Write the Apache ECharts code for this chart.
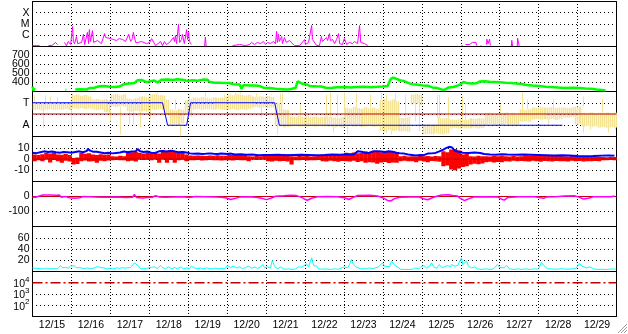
<!DOCTYPE html>
<html><head><meta charset="utf-8">
<script src="https://cdn.jsdelivr.net/npm/echarts/dist/echarts.min.js"></script>
<style>html,body{margin:0;padding:0;background:#fff;}#c{width:628px;height:334px;}</style>
</head><body><div id="c"></div><script>
// ---------- DATA ----------
const dateLabels = ['12/15','12/16','12/17','12/18','12/19','12/20','12/21','12/22','12/23','12/24','12/25','12/26','12/27','12/28','12/29'];
const dayCount = 15;
const xrayTicks = {'-6':'C','-5':'M','-4':'X'};
// X-ray flux [day, W/m2]
const xray = [[0,1.2e-7],[0.10,1.2e-7],[0.18,1.2e-7],[0.2,'-'],[0.41,1.2e-7],[0.51,1.3e-7],[0.59,2.3e-7],[0.64,1.5e-7],[0.66,'-'],
[0.82,2.3e-7],[0.87,1.2e-7],[0.92,2.8e-7],[0.98,1.5e-7],[1.03,6e-6],[1.05,2.8e-7],[1.08,1.8e-7],[1.13,7.7e-7],[1.16,1.8e-7],[1.21,1.5e-7],
[1.26,2.3e-7],[1.31,1.2e-6],[1.34,1.5e-7],[1.39,1.8e-7],[1.41,1.8e-6],[1.44,1.8e-7],[1.46,3.2e-6],[1.49,2.8e-7],[1.54,2.6e-6],[1.57,2.3e-7],
[1.62,2.3e-7],[1.67,3.4e-7],[1.72,2.3e-7],[1.77,1.8e-7],[1.85,1.4e-6],[1.88,6.3e-7],[1.93,4.2e-7],[2.00,5.1e-7],[2.08,4.2e-7],[2.16,3.4e-7],
[2.23,5.1e-7],[2.31,4.2e-7],[2.39,2.8e-7],[2.44,3.4e-7],[2.47,1.2e-6],[2.52,2.8e-7],[2.57,5.1e-7],[2.59,1.8e-6],[2.65,2.3e-7],[2.72,2.3e-7],
[2.80,2.8e-7],[2.85,2.3e-7],[2.93,1.8e-7],[3.01,2.3e-7],[3.06,5.1e-7],[3.11,4.2e-7],[3.16,1.2e-7],[3.21,1.2e-7],[3.29,2.8e-7],[3.34,1.2e-7],
[3.39,2.8e-7],[3.44,1.5e-7],[3.52,2.3e-7],[3.57,2.8e-7],[3.62,6.3e-7],[3.65,2.8e-7],[3.67,9.5e-7],[3.70,1.8e-7],[3.75,9.1e-6],[3.78,2.3e-7],
[3.83,4.2e-7],[3.85,1.2e-6],[3.90,1.8e-7],[3.96,3.2e-6],[3.98,4.2e-7],[4.01,1.8e-6],[4.03,2.8e-7],[4.08,1.5e-7],[4.1,'-'],
[4.42,1.1e-7],[4.44,7e-7],[4.46,1.1e-7],[4.47,'-'],
[5.14,1.2e-7],[5.32,1.5e-7],[5.47,1.2e-7],[5.57,1.5e-7],[5.63,2.3e-7],[5.70,1.5e-7],[5.78,2.3e-7],[5.86,1.8e-7],[5.93,2.8e-7],[5.99,1.5e-7],
[6.04,2.3e-7],[6.11,1.8e-7],[6.19,2.8e-7],[6.24,1.8e-7],[6.27,2.2e-6],[6.29,2.3e-7],[6.32,1.2e-6],[6.34,2.8e-7],[6.40,7.7e-7],[6.42,1.8e-7],
[6.47,6.3e-7],[6.52,2.3e-7],[6.60,3.4e-7],[6.65,2.3e-7],[6.73,1.2e-7],[6.86,1.2e-7],[6.99,4.2e-7],[7.01,1.5e-7],[7.09,2.3e-7],[7.14,1.8e-7],
[7.17,7.4e-6],[7.19,4.2e-7],[7.24,2.8e-7],[7.30,1.2e-7],[7.37,1.2e-7],[7.42,7.7e-7],[7.45,2.8e-7],[7.50,4.2e-7],[7.55,6.3e-7],[7.58,3.4e-7],
[7.63,1.4e-6],[7.65,3.4e-7],[7.71,4.2e-7],[7.76,1.8e-7],[7.81,4.2e-7],[7.86,1.4e-6],[7.89,1.8e-7],[7.96,1.5e-7],[8.01,5.1e-7],[8.07,1.5e-7],
[8.14,2.3e-7],[8.22,1.8e-7],[8.27,2.8e-7],[8.35,1.8e-7],[8.40,7.4e-6],[8.43,2.3e-7],[8.48,3.4e-7],[8.53,1.8e-7],[8.61,1.2e-7],[8.62,'-'],
[10.12,1.2e-7],[10.16,1.2e-7],[10.17,'-'],[11.02,1.2e-7],[11.05,1.2e-7],[11.07,'-'],
[11.12,1.5e-7],[11.17,1.2e-7],[11.22,1.5e-7],[11.25,1.2e-7],[11.30,2.3e-7],[11.35,1.8e-7],[11.39,2.3e-7],[11.41,1.2e-7],[11.42,'-'],
[11.51,1.2e-7],[11.53,1.2e-7],[11.54,'-'],
[11.66,1.5e-7],[11.67,4.5e-7],[11.70,1.8e-7],[11.73,1.8e-7],[11.74,4.5e-7],[11.76,1.2e-7],[11.77,'-'],
[12.30,1.1e-7],[12.31,3.6e-7],[12.33,1.1e-7],[12.34,'-'],
[12.45,1.1e-7],[12.46,5.5e-7],[12.49,5e-7],[12.50,1.1e-7]];
// Solar wind speed [day, km/s]
const speed = [[0,355],[0.03,305],[0.05,340],[0.06,'-'],[0.85,320],[0.87,318],[0.9,'-'],
[1.10,322],[1.21,325],[1.39,322],[1.46,338],[1.59,342],[1.72,358],[1.85,360],[1.98,352],[2.11,350],[2.23,355],[2.34,380],[2.49,388],[2.62,395],
[2.70,426],[2.80,428],[2.93,404],[3.06,418],[3.13,422],[3.21,400],[3.31,430],[3.47,434],[3.60,428],[3.72,436],[3.85,430],[3.98,418],[4.11,426],
[4.24,420],[4.37,432],[4.50,430],[4.55,405],[4.68,398],[4.85,396],[5.06,395],[5.16,380],[5.32,378],[5.37,332],[5.42,372],[5.57,368],[5.73,366],
[5.83,362],[5.93,342],[6.09,338],[6.24,330],[6.42,326],[6.55,322],[6.65,328],[6.76,342],[6.81,412],[6.86,422],[6.94,385],[7.04,378],[7.12,362],
[7.27,358],[7.42,355],[7.53,342],[7.68,340],[7.81,346],[8.01,350],[8.19,345],[8.32,350],[8.53,352],[8.71,348],[8.86,352],[8.99,356],[9.12,362],
[9.20,440],[9.27,455],[9.35,440],[9.43,425],[9.53,418],[9.63,398],[9.74,382],[9.89,376],[10.02,368],[10.15,365],[10.27,345],[10.40,338],[10.51,322],
[10.58,318],[10.63,312],[10.68,345],[10.81,350],[10.92,365],[10.99,380],[11.07,405],[11.15,395],[11.28,388],[11.41,392],[11.48,412],[11.61,415],
[11.74,408],[11.87,406],[12.00,402],[12.15,396],[12.30,394],[12.43,388],[12.56,384],[12.69,372],[12.84,366],[13.02,360],[13.18,353],[13.33,350],
[13.49,344],[13.67,340],[13.85,342],[14.05,338],[14.20,333],[14.36,330],[14.49,322],[14.62,318],[14.72,312]];
// IMF direction (phi, deg): core range per 0.1-day bin, plus isolated excursions [day, from, to]
const phiBinStep = 0.1;
const phiHi = [266,270,262,268,272,270,266,274,268,270,330,336,326,332,320,296,300,292,298,290,334,340,330,338,304,300,308,318,322,314,
336,340,332,328,296,216,210,220,214,290,300,312,306,316,310,304,314,308,312,318,336,330,338,332,328,334,320,316,322,318,
324,316,272,266,216,212,160,156,164,158,162,156,160,154,158,162,156,152,148,154,230,224,236,228,220,234,226,232,222,290,
300,286,296,280,150,148,154,336,340,332,96,100,92,98,150,144,148,136,132,138,134,136,146,142,148,144,186,190,182,188,
184,192,186,190,184,216,212,218,232,228,234,230,232,236,228,232,232,228,234,240,236,190,186,194,188,190,186,192,188,190];
const phiLo = [212,216,208,214,218,212,216,214,220,212,226,222,228,220,224,216,212,218,196,192,240,236,244,238,204,198,206,200,204,198,
216,212,220,214,176,96,100,92,104,170,160,216,220,212,218,216,214,222,216,212,216,220,212,218,214,220,232,236,228,234,
230,232,84,80,72,76,80,84,78,82,80,82,78,84,80,82,78,72,76,70,80,84,78,82,76,80,84,78,82,48,
40,52,44,50,40,44,38,256,260,252,16,20,16,24,20,16,24,64,68,62,66,64,66,70,64,68,94,98,92,96,
94,98,92,96,94,120,124,118,136,140,134,138,136,140,132,138,152,150,154,96,100,80,84,78,82,72,76,70,74,72];
const phiSpikes = [[0.05,266,330],[0.26,213,66],[0.31,266,330],[0.44,270,320],[0.64,270,312],[1.00,216,0],[1.01,226,344],[1.98,216,120],
[2.26,240,16],[2.49,204,96],[2.57,198,96],[2.75,200,72],[3.03,216,144],[3.21,340,352],[3.67,216,296],[3.78,92,0],[4.03,300,328],[4.42,316,352],
[4.93,318,336],[5.19,330,360],[5.32,338,352],[5.73,316,344],[5.88,232,152],[6.29,84,16],[6.36,272,344],[6.42,266,344],[6.86,160,256],
[7.55,162,336],[7.65,156,352],[7.73,72,32],[7.83,152,336],[7.99,154,352],[8.07,80,16],[8.32,226,344],[8.66,234,336],[8.96,290,352],
[9.07,280,336],[9.08,50,32],[9.20,48,16],[9.32,280,344],[9.56,154,336],[9.82,256,120],[9.92,252,40],[10.38,150,336],[10.45,144,336],
[10.66,136,312],[11.02,136,320],[11.12,136,264],[12.00,190,256],[12.56,192,352],[12.71,218,296],[13.23,136,96],[13.36,232,304],
[14.13,240,320],[14.14,96,32],[14.31,80,56],[14.62,190,304],[14.77,76,32],[14.95,72,56]];
// Sector polarity (deg: 270 = T, 90 = A)
const sector = [[0,270],[3.34,270],[3.47,90],[3.96,90],[4.06,270],[6.22,270],[6.34,90],[13.61,90]];
const phiCenter = 180;
// Bt [day, nT]
const bt = [[0,5.5],[0.10,5.2],[0.20,6.0],[0.30,6.8],[0.40,6.2],[0.50,6.6],[0.60,6.0],[0.70,5.6],[0.80,6.2],[0.90,6.0],[1.00,5.6],[1.10,6.2],
[1.20,6.8],[1.30,6.0],[1.40,7.2],[1.42,9.0],[1.48,7.4],[1.55,6.5],[1.65,6.4],[1.75,5.8],[1.85,5.2],[1.95,5.6],[2.05,5.0],[2.15,5.4],[2.25,5.8],
[2.35,6.6],[2.45,6.0],[2.55,6.6],[2.65,6.8],[2.70,8.8],[2.76,7.0],[2.85,6.2],[2.95,6.6],[3.05,5.6],[3.15,5.4],[3.25,6.8],[3.35,7.2],[3.45,6.6],
[3.55,7.4],[3.65,6.8],[3.75,6.0],[3.85,6.2],[3.95,5.8],[4.05,5.0],[4.15,4.6],[4.25,4.8],[4.35,4.4],[4.45,4.6],[4.55,5.0],[4.65,4.6],[4.75,4.4],
[4.85,4.8],[5.00,4.4],[5.05,5.4],[5.10,4.8],[5.20,4.0],[5.35,4.2],[5.50,3.8],[5.65,4.0],[5.80,3.4],[5.95,3.6],[6.10,3.6],[6.30,3.8],[6.50,3.4],
[6.70,3.6],[6.90,3.8],[7.10,3.6],[7.30,3.4],[7.50,3.6],[7.70,4.0],[7.90,3.8],[8.10,4.2],[8.25,4.0],[8.35,6.8],[8.45,6.4],[8.55,5.4],[8.65,5.6],
[8.75,6.8],[8.85,7.0],[8.95,6.6],[9.05,6.2],[9.15,6.8],[9.25,6.4],[9.35,5.6],[9.45,5.0],[9.55,4.8],[9.65,4.0],[9.75,3.6],[9.85,3.2],[9.95,3.6],
[10.05,3.4],[10.15,4.8],[10.25,5.0],[10.35,5.4],[10.45,6.8],[10.55,8.4],[10.62,9.6],[10.70,10.8],[10.78,10.2],[10.85,7.2],[10.95,6.4],[11.05,5.6],
[11.20,5.4],[11.35,5.8],[11.50,5.4],[11.60,4.4],[11.75,4.0],[11.90,3.8],[12.05,4.2],[12.20,4.0],[12.40,3.8],[12.60,4.0],[12.80,3.8],[13.00,3.6],
[13.20,3.4],[13.40,3.2],[13.60,3.4],[13.80,3.2],[14.00,2.6],[14.20,2.4],[14.40,2.6],[14.60,3.0],[14.80,3.2],[14.95,3.0]];
// Bz range per 0.1-day bin [nT]
const bzBinStep = 0.1;
const bzHi = [4.0,3.6,4.2,5.5,5.0,5.8,4.0,3.8,4.4,3.6,1.0,1.4,5.5,4.6,5.2,4.0,3.6,4.2,3.8,4.0,2.5,2.2,2.8,2.4,6.9,6.0,6.4,
5.5,5.0,5.8,5.2,5.4,5.0,6.9,6.4,7.0,6.6,6.2,6.8,4.0,3.1,2.8,3.2,3.0,2.6,3.1,2.9,3.3,2.8,3.0,4.0,3.6,4.2,3.8,4.0,
2.5,2.2,2.6,2.4,2.8,4.0,3.6,4.2,3.8,4.4,3.9,2.5,2.2,2.6,2.4,2.8,2.3,2.5,2.6,4.0,3.7,4.2,3.8,4.1,3.9,5.5,5.0,5.8,5.2,5.4,
6.9,6.2,7.2,6.6,6.0,6.8,6.4,7.0,6.2,2.5,2.8,2.2,2.5,2.2,2.8,2.4,2.6,2.3,2.7,2.5,6.9,6.0,8.4,9.0,7.6,4.0,4.4,2.5,2.2,2.8,2.4,
2.5,2.2,2.6,2.4,2.8,2.5,2.3,2.6,2.2,2.4,3.1,2.8,3.2,3.0,2.7,3.1,2.9,3.2,2.8,3.0,2.5,2.2,2.6,2.4,2.3,2.6,2.4,2.2,2.5,2.3,1.8,1.6,2.0,1.7];
const bzLo = [-1.9,-1.2,-2.0,-0.4,-3.0,-0.8,-2.0,-3.4,-1.6,-2.2,-4.9,-4.4,-1.9,-1.4,-2.2,-1.9,-3.4,-1.6,-2.0,-1.4,-1.0,-0.8,-1.2,-1.0,-1.9,-1.6,-2.2,
-0.4,-0.8,-0.6,-1.0,-0.4,-3.4,-0.4,-3.4,-0.8,-3.4,-1.0,-0.6,-1.9,-1.0,-1.2,-0.8,-1.4,-1.0,-0.9,-1.2,-1.0,-1.4,-1.1,-1.0,-1.4,-0.8,-1.2,-1.0,
-1.9,-0.4,-0.8,-0.6,-0.4,-1.9,-2.2,-1.6,-2.0,-1.8,-2.2,-4.9,-1.0,-1.2,-0.8,-1.4,-1.0,-1.2,-0.9,-1.9,-2.2,-1.6,-2.0,-2.4,-1.8,-1.9,-2.2,-1.6,-2.6,-2.0,
-3.4,-2.8,-3.0,-4.2,-3.2,-2.6,-3.6,-3.0,-3.4,-1.9,-1.6,-2.0,-1.9,-2.8,-1.6,-2.2,-2.8,-1.8,-2.0,-2.4,-6.4,-5.8,-9.3,-10.0,-8.4,-7.0,-6.4,-4.9,-4.2,-4.6,-4.0,
-2.8,-2.4,-3.0,-2.6,-2.8,-1.9,-2.2,-1.6,-2.0,-1.8,-1.9,-2.2,-1.6,-2.0,-2.4,-1.8,-2.0,-2.2,-1.7,-1.9,-1.9,-2.2,-1.6,-2.0,-1.8,-2.2,-1.9,-2.0,-1.7,-2.1,-1.0,-1.2,-0.8,-1.0];
// Dst [day, nT]
const dst = [[0,-5],[0.08,-5],[0.13,0],[0.26,10],[0.44,10],[0.62,8],[0.69,10],[0.74,-5],[0.85,0],[0.95,-8],[1.08,-12],[1.21,-8],[1.31,0],
[1.46,-2],[1.62,-4],[1.77,-5],[1.98,-5],[2.18,-4],[2.39,-6],[2.57,-5],[2.62,14],[2.67,-6],[2.83,-10],[2.95,-6],[3.08,-5],[3.16,6],[3.26,-3],
[3.42,-5],[3.65,-3],[3.85,-2],[4.03,-6],[4.19,0],[4.42,-1],[4.68,-3],[4.85,-5],[4.98,-10],[5.09,-20],[5.19,-14],[5.32,-4],[5.57,-2],[5.78,-6],
[5.88,-12],[6.01,-21],[6.14,-10],[6.24,2],[6.45,5],[6.63,8],[6.78,6],[6.91,-6],[6.99,-18],[7.06,-25],[7.17,-12],[7.32,-2],[7.58,0],[7.83,-2],
[8.01,-8],[8.12,-20],[8.24,-6],[8.35,7],[8.66,8],[8.86,4],[8.99,-8],[9.12,-26],[9.20,-30],[9.30,-14],[9.43,-5],[9.68,-3],[9.94,-3],[10.04,-15],
[10.15,-22],[10.27,-8],[10.38,2],[10.51,10],[10.69,11],[10.79,6],[10.92,3],[10.99,-12],[11.10,-27],[11.20,-16],[11.33,-3],[11.61,-1],[11.94,-3],
[12.05,-18],[12.12,-24],[12.21,-6],[12.51,-1],[12.90,-2],[13.05,-8],[13.13,-12],[13.20,-4],[13.43,-1],[13.67,4],[13.92,5],[14.05,-6],[14.15,-17],
[14.28,-12],[14.41,-2],[14.69,-1],[14.87,-2],[14.95,4]];
// Density [day, /cc]
const dens = [[0,6.5],[0.05,8.3],[0.10,5.6],[0.15,8.0],[0.21,5.0],[0.26,7.5],[0.31,4.7],[0.36,6.8],[0.41,5.0],[0.49,4.7],[0.57,5.2],[0.64,4.7],
[0.69,8.0],[0.72,10.7],[0.77,6.5],[0.85,7.2],[0.92,6.0],[0.98,10.0],[1.03,8.5],[1.08,10.2],[1.13,6.5],[1.21,7.0],[1.26,6.2],[1.34,5.0],[1.41,6.5],
[1.49,4.7],[1.57,6.0],[1.62,5.0],[1.67,9.0],[1.70,12.4],[1.75,7.0],[1.82,6.5],[1.90,4.7],[2.00,5.2],[2.08,4.7],[2.16,6.5],[2.23,5.6],[2.31,6.8],
[2.39,6.0],[2.44,8.3],[2.52,7.0],[2.57,9.0],[2.62,15.4],[2.67,18.4],[2.72,10.0],[2.77,4.7],[2.85,5.0],[2.93,5.6],[2.98,8.3],[3.06,7.5],[3.13,8.3],
[3.21,5.5],[3.29,10.7],[3.34,7.0],[3.42,5.0],[3.49,8.3],[3.57,4.7],[3.65,7.0],[3.72,5.0],[3.80,8.0],[3.88,4.7],[3.96,6.5],[4.03,5.0],[4.08,9.5],
[4.16,6.5],[4.24,5.0],[4.32,6.2],[4.39,4.7],[4.47,6.5],[4.55,5.0],[4.62,4.7],[4.70,6.0],[4.78,4.7],[4.85,5.5],[4.93,4.7],[5.01,10.7],[5.09,7.0],
[5.16,9.5],[5.24,6.5],[5.32,8.3],[5.39,5.0],[5.47,7.0],[5.55,9.5],[5.63,6.0],[5.70,8.0],[5.78,5.6],[5.86,8.3],[5.91,12.4],[5.96,6.5],[6.04,8.3],
[6.11,6.0],[6.16,19.5],[6.22,9.0],[6.29,5.0],[6.37,8.0],[6.45,4.7],[6.52,4.0],[6.60,4.7],[6.68,3.6],[6.76,4.7],[6.83,8.3],[6.91,7.5],[6.96,10.7],
[7.04,13.6],[7.09,8.3],[7.14,10.0],[7.17,24.3],[7.22,10.7],[7.30,9.5],[7.35,4.7],[7.45,4.0],[7.55,4.7],[7.65,3.6],[7.76,4.7],[7.86,4.0],[7.94,6.5],
[8.01,8.3],[8.09,6.5],[8.14,12.0],[8.19,21.3],[8.24,13.0],[8.30,8.3],[8.35,10.7],[8.43,4.7],[8.50,5.0],[8.58,4.7],[8.66,6.5],[8.73,5.0],[8.81,6.5],
[8.89,8.3],[8.94,6.5],[8.99,15.4],[9.04,9.5],[9.09,10.7],[9.17,8.3],[9.22,18.4],[9.27,16.0],[9.32,10.0],[9.38,8.3],[9.45,4.0],[9.56,3.6],[9.66,3.6],
[9.76,4.0],[9.84,6.5],[9.92,4.7],[9.97,8.3],[10.05,10.7],[10.12,6.5],[10.20,9.5],[10.25,15.4],[10.30,8.3],[10.38,6.0],[10.45,12.4],[10.51,7.0],
[10.58,8.3],[10.66,10.7],[10.74,8.3],[10.76,12.4],[10.84,9.5],[10.92,10.7],[10.97,8.3],[11.02,24.3],[11.05,12.4],[11.10,10.0],[11.15,18.4],[11.20,9.0],
[11.28,6.5],[11.35,8.3],[11.43,4.7],[11.53,3.6],[11.64,4.7],[11.74,3.6],[11.84,4.7],[11.89,6.0],[11.94,12.4],[12.00,7.0],[12.05,8.3],[12.12,6.5],
[12.18,10.7],[12.25,4.7],[12.36,3.6],[12.46,4.7],[12.56,3.6],[12.66,4.7],[12.77,3.6],[12.87,4.7],[12.97,4.0],[13.02,8.0],[13.07,16.6],[13.13,10.7],
[13.18,8.3],[13.23,4.7],[13.33,4.7],[13.43,4.0],[13.54,4.7],[13.64,4.7],[13.74,4.0],[13.85,4.7],[13.95,4.7],[14.00,8.0],[14.05,14.2],[14.10,10.0],
[14.15,8.3],[14.23,6.5],[14.31,8.3],[14.36,9.5],[14.41,4.7],[14.51,3.6],[14.62,4.0],[14.72,3.6],[14.82,4.0],[14.92,4.7],[14.98,4.0]];
const protonThreshold = 1e4;

// ---------- BUILD ----------
const FONT = 'Liberation Sans', FS = 10.5;
const L = 32.5, R = 11.5, H = 45;
const tops = [1.5, 46.5, 91.5, 136.5, 181.5, 226.5, 271.5];
const grids = tops.map(t => ({left:L, right:R, top:t, height:H, show:true, borderColor:'#000', borderWidth:1, backgroundColor:'transparent'}));
grids.push({left:L, right:R, top:1.5, height:315, show:false});
const xAxes = tops.map((t,i) => ({type:'value', gridIndex:i, min:0, max:dayCount, show:false}));
xAxes.push({type:'category', gridIndex:7, data:dateLabels, boundaryGap:true, axisLine:{show:false}, axisTick:{show:false},
  axisLabel:{interval:0, margin:3, color:'#000', fontFamily:FONT, fontSize:FS},
  splitLine:{show:true, interval:0, lineStyle:{color:'#000', width:1, type:[1,2], dashOffset:0.5}}});
const dotted = {show:true, lineStyle:{color:'#000', width:1, type:[1,3], dashOffset:0.5}};
const lab = (fmt, extra) => Object.assign({margin:3, color:'#000', fontFamily:FONT, fontSize:FS, formatter:fmt, showMinLabel:true, showMaxLabel:true}, extra||{});
const hideEdges = (lo, hi) => v => (v===lo || v===hi) ? '' : String(v);
const yAxes = [
  {type:'log', gridIndex:0, min:1e-7, max:1e-3, logBase:10, axisLine:{show:false}, axisTick:{show:false}, splitLine:dotted,
    axisLabel:lab(v => xrayTicks[String(Math.round(Math.log10(v)))] || '')},
  {type:'value', gridIndex:1, min:300, max:800, interval:100, axisLine:{show:false}, axisTick:{show:false}, splitLine:dotted,
    axisLabel:lab(hideEdges(300,800))},
  {type:'value', gridIndex:2, min:0, max:360, interval:90, axisLine:{show:false}, axisTick:{show:false}, splitLine:dotted,
    axisLabel:lab(v => v===270?'T':(v===90?'A':''))},
  {type:'value', gridIndex:3, min:-20, max:20, interval:10, axisLine:{show:false}, axisTick:{show:false}, splitLine:dotted,
    axisLabel:lab(hideEdges(-20,20))},
  {type:'value', gridIndex:4, min:-200, max:100, interval:100, axisLine:{show:false}, axisTick:{show:false}, splitLine:dotted,
    axisLabel:lab(hideEdges(-200,100))},
  {type:'value', gridIndex:5, min:0, max:80, interval:20, axisLine:{show:false}, axisTick:{show:false}, splitLine:dotted,
    axisLabel:lab(hideEdges(0,80))},
  {type:'log', gridIndex:6, min:10, max:1e5, logBase:10, axisLine:{show:false}, axisTick:{show:false},
    splitLine:{show:true, lineStyle:{color:['#000','#000','#000','rgba(0,0,0,0)','#000'], width:1, type:[1,3], dashOffset:0.5}},
    axisLabel:lab(v => { const n=Math.round(Math.log10(v)); return (n>=2 && n<=4) ? '{b|10}{s|'+n+'}' : ''; },
      {rich:{b:{fontFamily:FONT, fontSize:FS, color:'#000', padding:[3,0,0,0], verticalAlign:'bottom'}, s:{fontFamily:FONT, fontSize:8, color:'#000', verticalAlign:'top'}}})},
  {type:'value', gridIndex:7, show:false}
];
const base = {type:'line', symbol:'none', animation:false, silent:true};
// range bins: 'strokes' draws thin vertical strokes per bin, 'fill' draws one block per bin
function rangeSeries(axis, hi, lo, step, color, width, mode){
  return {type:'custom', xAxisIndex:axis, yAxisIndex:axis, silent:true, animation:false, clip:true,
    data: hi.map((h,i) => [i*step, h, lo[i]]), encode:{x:0, y:[1,2]},
    renderItem:(params, api) => {
      const d = api.value(0);
      const a = api.coord([d, api.value(1)]), b = api.coord([d+step, api.value(2)]);
      const w = b[0]-a[0];
      if (mode === 'fill') {
        return {type:'rect', shape:{x:a[0], y:a[1], width:w+0.3, height:b[1]-a[1]}, style:{fill:color}};
      }
      return {type:'group', children:[0.25,0.75].map(f => { const x = Math.round(a[0]+w*f)+0.5;
        return {type:'line', shape:{x1:x, y1:a[1], x2:x, y2:b[1]}, style:{stroke:color, lineWidth:width}}; })};
    }};
}
function spikeSeries(axis, spikes, color){
  return {type:'custom', xAxisIndex:axis, yAxisIndex:axis, silent:true, animation:false, clip:true,
    data: spikes, encode:{x:0, y:[1,2]},
    renderItem:(params, api) => {
      const a = api.coord([api.value(0), api.value(1)]), b = api.coord([api.value(0), api.value(2)]);
      const x = Math.round(a[0])+0.5;
      return {type:'line', shape:{x1:x, y1:a[1], x2:x, y2:b[1]}, style:{stroke:color, lineWidth:1}};
    }};
}
const series = [
  Object.assign({}, base, {xAxisIndex:0, yAxisIndex:0, data:xray, lineStyle:{color:'#ff00ff', width:1}}),
  Object.assign({}, base, {xAxisIndex:1, yAxisIndex:1, data:speed, lineStyle:{color:'#00ff00', width:2.5}}),
  rangeSeries(2, phiHi, phiLo, phiBinStep, '#f5e394', 1.5, 'strokes'),
  spikeSeries(2, phiSpikes, '#f5e394'),
  Object.assign({}, base, {xAxisIndex:2, yAxisIndex:2, data:[[0,phiCenter],[dayCount,phiCenter]], lineStyle:{color:'#c00000', width:1}}),
  Object.assign({}, base, {xAxisIndex:2, yAxisIndex:2, data:sector, lineStyle:{color:'#0000ff', width:1}}),
  Object.assign({}, base, {xAxisIndex:3, yAxisIndex:3, data:[[0,0],[dayCount,0]], lineStyle:{color:'#c00000', width:1}}),
  Object.assign({}, base, {xAxisIndex:3, yAxisIndex:3, data:bt, lineStyle:{color:'#0000ff', width:2}}),
  rangeSeries(3, bzHi, bzLo, bzBinStep, '#ff0000', 1, 'fill'),
  Object.assign({}, base, {xAxisIndex:4, yAxisIndex:4, data:[[0,0],[dayCount,0]], lineStyle:{color:'#c00000', width:1}}),
  Object.assign({}, base, {xAxisIndex:4, yAxisIndex:4, data:dst, lineStyle:{color:'#ff00ff', width:1.5}}),
  Object.assign({}, base, {xAxisIndex:5, yAxisIndex:5, data:dens, lineStyle:{color:'#00ffff', width:1}}),
  Object.assign({}, base, {xAxisIndex:6, yAxisIndex:6, data:[[0,protonThreshold],[dayCount,protonThreshold]], lineStyle:{color:'#c00000', width:1.5, type:[10,3,2,3]}})
];
const chart = echarts.init(document.getElementById('c'), null, {renderer:'canvas'});
chart.setOption({
  animation:false, backgroundColor:'#fff',
  grid:grids, xAxis:xAxes, yAxis:yAxes, series:series,
  graphic:[{type:'group', silent:true, children:[
    {type:'line', shape:{x1:618,y1:333,x2:627,y2:324}, style:{stroke:'#a0a0a0', lineWidth:1}},
    {type:'line', shape:{x1:621,y1:333,x2:627,y2:327}, style:{stroke:'#a0a0a0', lineWidth:1}},
    {type:'line', shape:{x1:624,y1:333,x2:627,y2:330}, style:{stroke:'#a0a0a0', lineWidth:1}}
  ]}]
});
</script></body></html>
